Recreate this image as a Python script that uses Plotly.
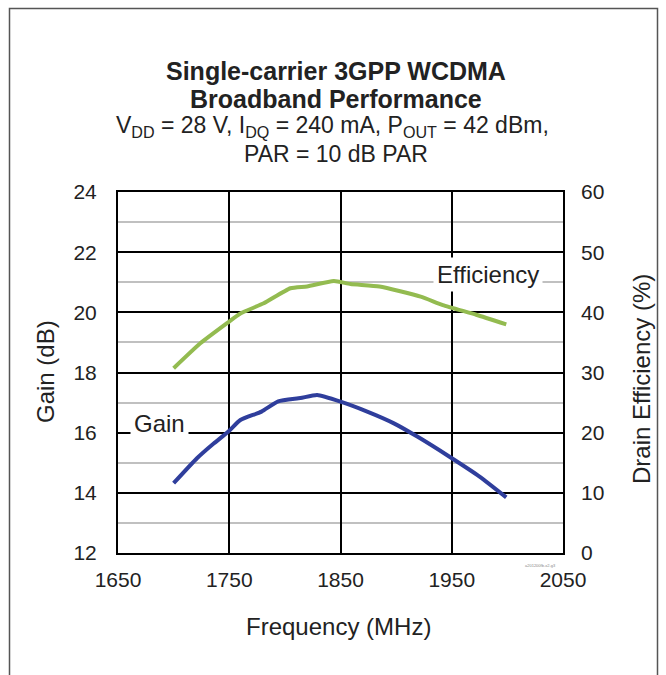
import plotly.graph_objects as go

# Data
gain_freq = [1700, 1721, 1736, 1749, 1760, 1779, 1794, 1814, 1829, 1850, 1874, 1898, 1919, 1948, 1975, 1999]
gain_db = [14.32, 15.15, 15.64, 16.03, 16.42, 16.70, 17.04, 17.15, 17.25, 17.03, 16.70, 16.31, 15.87, 15.20, 14.54, 13.85]

eff_freq = [1700, 1724, 1748, 1760, 1781, 1805, 1820, 1844, 1859, 1885, 1922, 1942, 1972, 1999]
eff_pct = [30.7, 34.85, 38.2, 39.8, 41.5, 44.0, 44.3, 45.2, 44.7, 44.3, 42.6, 41.2, 39.6, 38.0]

x_ticks = [1650, 1750, 1850, 1950, 2050]
gain_ticks = [12, 14, 16, 18, 20, 22, 24]
eff_ticks = [0, 10, 20, 30, 40, 50, 60]

FONT = "Liberation Sans, Arial, sans-serif"
W, H = 666, 675
L, R, T, B = 118, 103, 192, 122
PW, PH = W - L - R, H - T - B

def px(x):
    return (x - L) / PW

def py(y):
    return (H - B - y) / PH

fig = go.Figure()
fig.add_trace(go.Scatter(x=gain_freq, y=gain_db, mode="lines", name="Gain",
                         line=dict(color="#2f3e9c", width=4, shape="spline", smoothing=0.5),
                         yaxis="y"))
fig.add_trace(go.Scatter(x=eff_freq, y=eff_pct, mode="lines", name="Efficiency",
                         line=dict(color="#93bb50", width=4, shape="spline", smoothing=0.5),
                         yaxis="y2"))

annotations = [
    dict(text="<b>Single-carrier 3GPP WCDMA</b>", x=px(336), y=py(71), font=dict(size=25)),
    dict(text="<b>Broadband Performance</b>", x=px(336), y=py(99), font=dict(size=25)),
    dict(text="V<sub>DD</sub> = 28 V, I<sub>DQ</sub> = 240 mA, P<sub>OUT</sub> = 42 dBm,",
         x=px(332), y=py(127), font=dict(size=23)),
    dict(text="PAR = 10 dB PAR", x=px(336), y=py(154), font=dict(size=23)),
    dict(text="Gain (dB)", x=px(45), y=py(372), textangle=-90, font=dict(size=24)),
    dict(text="Drain Efficiency (%)", x=px(641), y=py(379), textangle=-90, font=dict(size=24)),
    dict(text="Frequency (MHz)", x=px(338), y=py(626), font=dict(size=24)),
    dict(text="a201200fb-x2-g3", x=px(540), y=py(565), font=dict(size=4, color="#888")),
]
for a in annotations:
    a.update(xref="paper", yref="paper", showarrow=False, xanchor="center", yanchor="middle")
    a["font"].setdefault("color", "#222")
    a["font"]["family"] = FONT

fig.add_annotation(text="Gain", x=1687.5, y=16.32, xref="x", yref="y", showarrow=False,
                   bgcolor="white", borderpad=3, font=dict(size=24, family=FONT, color="#222"))
fig.add_annotation(text="Efficiency", x=1982.5, y=21.25, xref="x", yref="y", showarrow=False,
                   bgcolor="white", borderpad=3, font=dict(size=24, family=FONT, color="#222"))

fig.update_layout(
    width=W, height=H,
    margin=dict(l=L, r=R, t=T, b=B),
    paper_bgcolor="white", plot_bgcolor="white",
    showlegend=False,
    font=dict(family=FONT, color="#222", size=21),
    annotations=list(fig.layout.annotations) + annotations,
    xaxis=dict(range=[1650, 2050], tickvals=x_ticks, showgrid=True, gridcolor="black", gridwidth=2,
               showline=True, linecolor="black", linewidth=2, mirror=True, zeroline=False,
               ticks="", ticklabelstandoff=7, tickfont=dict(size=21)),
    yaxis=dict(range=[12, 24], tickvals=gain_ticks, showgrid=True, gridcolor="black", gridwidth=2,
               minor=dict(dtick=1, showgrid=True, gridcolor="#c0c0c0", gridwidth=2),
               showline=True, linecolor="black", linewidth=2, mirror=True, zeroline=False,
               ticks="", ticklabelstandoff=15, tickfont=dict(size=21)),
    yaxis2=dict(range=[0, 60], tickvals=eff_ticks, overlaying="y", side="right", showgrid=False,
                zeroline=False, showline=False, ticks="", ticklabelstandoff=17, tickfont=dict(size=21)),
    shapes=[dict(type="rect", xref="paper", yref="paper", x0=px(9.5), x1=px(657.5),
                 y0=py(690), y1=py(8.5), line=dict(color="#555", width=1.5), layer="below")],
)

fig.write_html("out.html", config={"displayModeBar": False},
               post_script="document.body.style.margin='0';")
